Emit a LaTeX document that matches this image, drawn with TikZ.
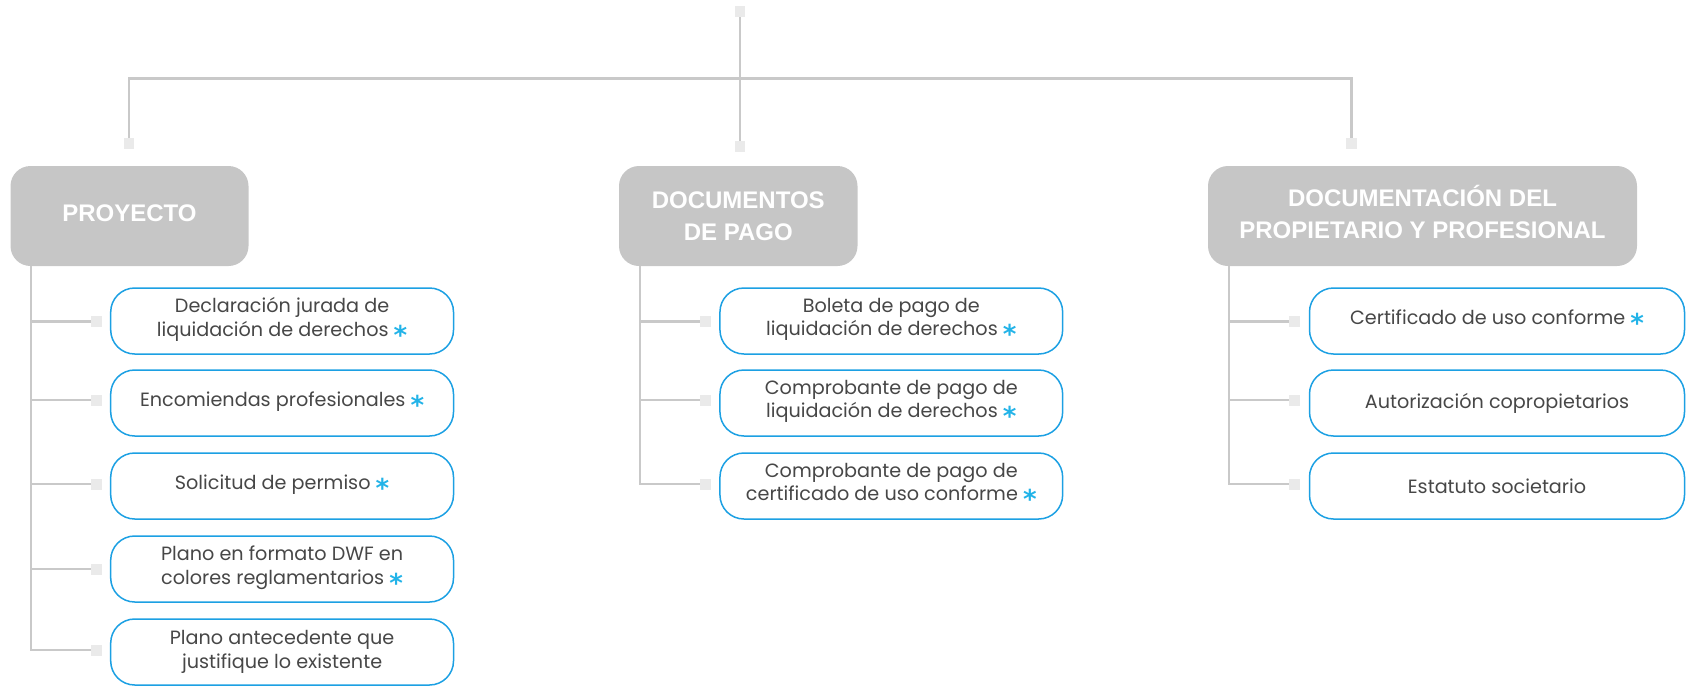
\documentclass[tikz,border=0pt]{standalone}
\usepackage{fontspec}
\newfontfamily\hfont{Liberation Sans}
\newfontfamily\cfont{Poppins}
\newfontfamily\dfont{DejaVu Sans}
\definecolor{hgray}{HTML}{C6C6C6}
\definecolor{lgray}{HTML}{C9C9C9}
\definecolor{sqgray}{HTML}{EAEAEA}
\definecolor{cblue}{HTML}{1CA0E3}
\definecolor{astc}{HTML}{22B3E8}
\definecolor{tgray}{HTML}{474747}
\newcommand{\astmark}{~\textcolor{astc}{\raisebox{-8pt}{\dfont\bfseries\fontsize{26}{26}\selectfont *}}}
\tikzset{
  header/.style={fill=hgray, rounded corners=20pt, inner sep=0pt,
    minimum height=100pt},
  htext/.style={text=white, align=center, inner sep=0pt,
    font=\hfont\bfseries\fontsize{24}{32}\selectfont},
  item/.style={draw=cblue, line width=1.5pt, rounded corners=24pt, fill=white,
    inner sep=0pt, minimum height=66pt, text=tgray, align=center,
    font=\cfont\fontsize{19.2}{23.5}\selectfont},
  sq/.style={fill=sqgray, inner sep=0pt, minimum width=10.5pt, minimum height=11pt},
  conn/.style={draw=lgray, line width=2.6pt}
}
\begin{document}
\begin{tikzpicture}[x=1pt,y=-1pt]
\useasboundingbox (0,0) rectangle (1686,686);
% top structure
\node[sq] (top) at (740,11.5) {};
\node[sq] (m1) at (129,143.5) {};
\node[sq] (m2) at (740,146.5) {};
\node[sq] (m3) at (1351.5,143.2) {};
\coordinate (bar) at (740,78.3);
\draw[conn] (top.south) -- (m2.north);
\draw[conn] (m1.north) |- (bar) -| (m3.north);
% headers
\node[header, minimum width=238pt] (h1) at (129.5,216) {};
\node[htext] (h1t) at ([yshift=2.7pt]h1.center) {PROYECTO};
\node[header, minimum width=238.5pt] (h2) at (738.25,216) {};
\node[htext] (h2t) at (h2.center) {DOCUMENTOS\\DE PAGO};
\node[header, minimum width=429pt] (h3) at (1422.5,216) {};
\node[htext] (h3t) at ([yshift=4pt]h3.center) {DOCUMENTACIÓN DEL\\PROPIETARIO Y PROFESIONAL};
% column 1
\node[item, minimum width=342.8pt] (a1) at (282.1,321) {Declaración jurada de\\liquidación de derechos\astmark};
\node[item, minimum width=342.8pt] (a2) at (282.1,403) {Encomiendas profesionales\astmark};
\node[item, minimum width=342.8pt] (a3) at (282.1,486) {Solicitud de permiso\astmark};
\node[item, minimum width=342.8pt] (a4) at (282.1,569) {Plano en formato DWF en\\colores reglamentarios\astmark};
\node[item, minimum width=342.8pt] (a5) at (282.1,652) {Plano antecedente que\\justifique lo existente};
\node[sq] (sa1) at (96.3,321.7) {};
\node[sq] (sa2) at (96.3,400) {};
\node[sq] (sa3) at (96.3,484) {};
\node[sq] (sa4) at (96.3,569) {};
\node[sq] (sa5) at (96.3,650) {};
\coordinate (ta) at (31,266);
\draw[conn] (ta) |- (sa5.west);
\foreach \i in {1,2,3,4} \draw[conn] (ta |- sa\i.west) -- (sa\i.west);
% column 2
\node[item, minimum width=342.7pt] (b1) at (891.3,321) {Boleta de pago de\\liquidación de derechos\astmark};
\node[item, minimum width=342.7pt] (b2) at (891.3,403) {Comprobante de pago de\\liquidación de derechos\astmark};
\node[item, minimum width=342.7pt] (b3) at (891.3,486) {Comprobante de pago de\\certificado de uso conforme\astmark};
\node[sq] (sb1) at (705.3,321.7) {};
\node[sq] (sb2) at (705.3,400) {};
\node[sq] (sb3) at (705.3,484) {};
\coordinate (tb) at (640,266);
\draw[conn] (tb) |- (sb3.west);
\foreach \i in {1,2} \draw[conn] (tb |- sb\i.west) -- (sb\i.west);
% column 3
\node[item, minimum width=375pt] (c1) at (1497,321) {Certificado de uso conforme\astmark};
\node[item, minimum width=375pt] (c2) at (1497,403) {Autorización copropietarios};
\node[item, minimum width=375pt] (c3) at (1497,486) {Estatuto societario};
\node[sq] (sc1) at (1294.5,321.7) {};
\node[sq] (sc2) at (1294.5,400) {};
\node[sq] (sc3) at (1294.5,484) {};
\coordinate (tc) at (1229,266);
\draw[conn] (tc) |- (sc3.west);
\foreach \i in {1,2} \draw[conn] (tc |- sc\i.west) -- (sc\i.west);
\end{tikzpicture}
\end{document}
